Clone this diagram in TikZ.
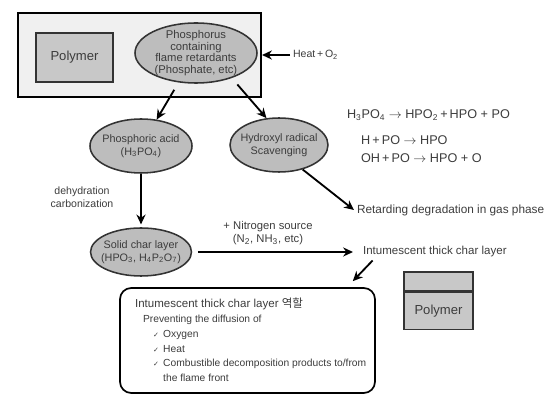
\documentclass[tikz,border=0pt]{standalone}
\usepackage{fontspec}
\setmainfont{Liberation Sans}
\newfontfamily\krfont{Noto Sans CJK KR}
\newfontfamily\symfont{DejaVu Sans}
\usetikzlibrary{shapes,arrows.meta}
\definecolor{ink}{HTML}{3C3C3C}
\definecolor{blob}{HTML}{BDBDBD}
\definecolor{boxgray}{HTML}{C8C8C8}
\definecolor{framefill}{HTML}{F0F0F0}

\begin{document}
\begin{tikzpicture}[
    flow/.style={-{Stealth[length=7pt,width=6.5pt]}, line width=1.3pt},
    blobnode/.style={ellipse, draw=black!80, line width=1.1pt, fill=blob, inner sep=-3pt, align=center, text=ink, font=\fontsize{7.7}{9.2}\selectfont},
    graybox/.style={draw=black!80, line width=1.1pt, fill=boxgray, text=ink, font=\fontsize{9.3}{11}\selectfont},
    txt/.style={text=ink, inner sep=2pt}
  ]
    \useasboundingbox (0,0) rectangle (13.875,10.275);
    \node[draw, line width=1.5pt, fill=framefill, minimum width=6.075cm, minimum height=2.1cm, inner sep=0pt] (frame) at (3.4875,8.9) {};
    \node[graybox, minimum width=1.925cm, minimum height=1.225cm] (poly) at (1.8625,8.8375) {Polymer};
    \node[blobnode, minimum width=3.05cm, minimum height=1.5cm, font=\fontsize{8}{8.2}\selectfont] (phos) at (4.9,8.95) {Phosphorus\\containing\\flame retardants\\(Phosphate, etc)};
    \node[txt, anchor=west, font=\fontsize{7.5}{9}\selectfont] (heat) at (7.25,8.9) {Heat\,+\,O\textsubscript{2}};
    \draw[flow] (heat.west) -- (heat.west -| frame.east);

    \node[blobnode, minimum width=2.55cm, minimum height=1.35cm] (acid) at (3.525,6.625) {Phosphoric acid\\(H\textsubscript{3}PO\textsubscript{4})};
    \node[blobnode, minimum width=2.45cm, minimum height=1.35cm] (hydro) at (6.975,6.65) {Hydroxyl radical\\Scavenging};
    \node[blobnode, minimum width=2.5cm, minimum height=1.2cm] (char) at (3.525,3.975) {Solid char layer\\(HPO\textsubscript{3}, H\textsubscript{4}P\textsubscript{2}O\textsubscript{7})};
    \draw[flow, shorten <=6pt] (phos) -- (acid);
    \draw[flow, shorten <=6pt] (phos.-35) -- (hydro.115);
    \draw[flow, shorten >=2pt] (acid) -- (char);
    \node[txt, align=center, font=\fontsize{7.5}{9.5}\selectfont] (dehyd) at (2.05,5.35) {dehydration\\carbonization};

    \node[txt, anchor=west, font=\fontsize{9}{11}\selectfont] (eqa) at (8.6,7.4) {H\textsubscript{3}PO\textsubscript{4} $\rightarrow$ HPO\textsubscript{2}\,+\,HPO + PO};
    \node[txt, anchor=west, font=\fontsize{9}{11}\selectfont] (eqb) at (8.95,6.775) {H\,+\,PO $\rightarrow$ HPO};
    \node[txt, anchor=west, font=\fontsize{9}{11}\selectfont] (eqc) at (8.95,6.325) {OH\,+\,PO $\rightarrow$ HPO + O};
    \node[txt, anchor=west, font=\fontsize{8.4}{10}\selectfont] (retard) at (8.85,5.025) {Retarding degradation in gas phase};
    \draw[flow] (hydro.-46) -- (retard.west);

    \node[txt, anchor=west, font=\fontsize{8.2}{10}\selectfont] (intum) at (9.0,3.975) {Intumescent thick char layer};
    \draw[flow, shorten <=4pt, shorten >=5pt] (char) -- (intum);
    \node[txt, align=center, font=\fontsize{8}{9.5}\selectfont] (nitro) at (6.7,4.44) {+ Nitrogen source\\(N\textsubscript{2}, NH\textsubscript{3}, etc)};

    \node[graybox, minimum width=1.725cm, minimum height=0.475cm] (crust) at (10.9625,3.2375) {};
    \node[graybox, anchor=north, minimum width=1.725cm, minimum height=0.925cm] (poly2) at (crust.south) {Polymer};

    \node[draw, line width=1.2pt, rounded corners=8pt, minimum width=6.375cm, minimum height=2.625cm] (role) at (6.1875,1.7625) {};
    \node[txt, anchor=north west, align=left, font=\fontsize{7.3}{10.5}\selectfont] (roletext) at (3.3,2.9) {{\fontsize{8.2}{10.5}\selectfont Intumescent thick char layer {\krfont 역할}}\\
      \hspace{5.7pt}Preventing the diffusion of\\
      \makebox[20pt][r]{\symfont\fontsize{5}{5}\selectfont ✓\hspace{3pt}}Oxygen\\
      \makebox[20pt][r]{\symfont\fontsize{5}{5}\selectfont ✓\hspace{3pt}}Heat\\
      \makebox[20pt][r]{\symfont\fontsize{5}{5}\selectfont ✓\hspace{3pt}}Combustible decomposition products to/from\\
      \hspace{20pt}the flame front};
    \draw[flow] ([xshift=9pt]intum.south west) -- ([shift={(-0.575,0.15)}]role.north east);
\end{tikzpicture}
\end{document}
